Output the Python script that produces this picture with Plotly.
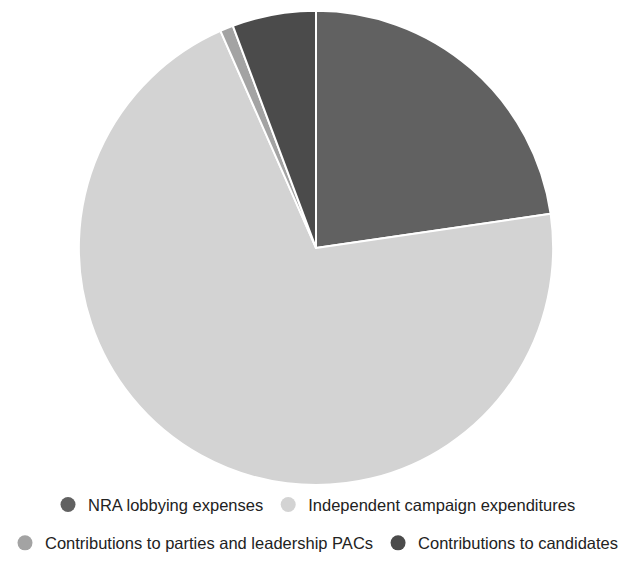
import plotly.graph_objects as go

labels = ["NRA lobbying expenses", "Independent campaign expenditures",
          "Contributions to parties and leadership PACs", "Contributions to candidates"]
values = [22.7, 70.7, 0.9, 5.7]
colors = ["#616161", "#d3d3d3", "#a3a3a3", "#4b4b4b"]
legend_rows = ["legend", "legend", "legend2", "legend2"]

W, H = 629, 561
cx, cy, r = 316, 252, 241

fig = go.Figure()
fig.add_trace(go.Pie(
    labels=labels, values=values, sort=False, direction="clockwise", rotation=0,
    marker=dict(colors=colors, line=dict(color="white", width=2)),
    textinfo="none", showlegend=False, hoverinfo="label+percent",
    domain=dict(x=[(cx - r) / W, (cx + r) / W], y=[1 - (cy + r) / H, 1 - (cy - r) / H]),
))
for lab, col, lg in zip(labels, colors, legend_rows):
    fig.add_trace(go.Scatter(
        x=[None], y=[None], mode="markers", name=lab, legend=lg,
        marker=dict(symbol="circle", size=15, color=col),
    ))

font = dict(family="Liberation Sans, Arial, sans-serif", size=16.5, color="#222222")
fig.update_layout(
    width=W, height=H, margin=dict(l=0, r=0, t=0, b=0),
    paper_bgcolor="white", plot_bgcolor="white",
    xaxis=dict(visible=False), yaxis=dict(visible=False),
    font=font,
    legend=dict(orientation="h", x=0.5, xanchor="center", y=1 - 513 / H, yanchor="middle",
                font=font, bgcolor="rgba(0,0,0,0)", itemclick=False),
    legend2=dict(orientation="h", x=0.5, xanchor="center", y=1 - 552 / H, yanchor="middle",
                 font=font, bgcolor="rgba(0,0,0,0)", itemclick=False),
)
fig.write_html("out.html")
